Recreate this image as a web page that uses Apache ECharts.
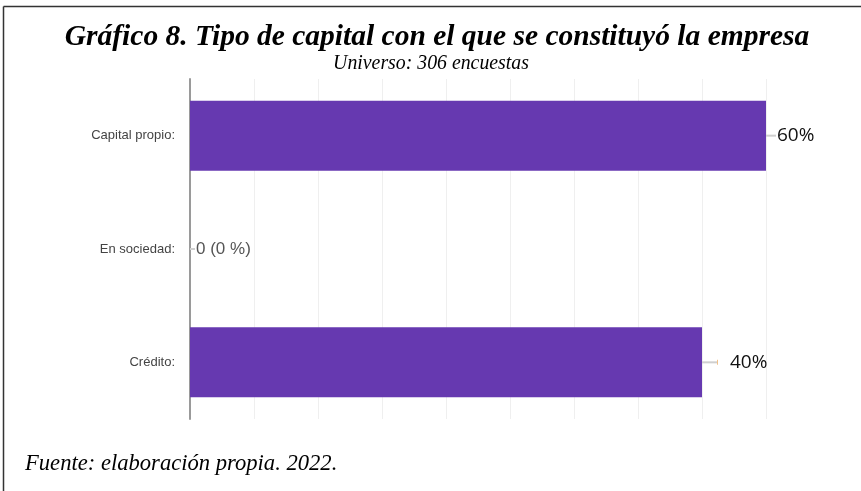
<!DOCTYPE html>
<html><head><meta charset="utf-8">
<script src="https://cdn.jsdelivr.net/npm/echarts@6/dist/echarts.min.js"></script>
<style>html,body{margin:0;padding:0;background:#fff}#c{width:861px;height:491px}</style>
</head><body><div id="c"></div>
<script>
const categories = ['Capital propio:', 'En sociedad:', 'Crédito:'];
const values = [180, 0, 160];
const valueLabels = ['60%', '0 (0 %)', '40%'];
const axisMax = 180;
const axisInterval = 20;

const chart = echarts.init(document.getElementById('c'));
const labelStyles = [
  {fontSize: 19, color: '#111', lead: 10, pad: 1, fam: 'Open Sans'},
  {fontSize: 17, color: '#555', lead: 5, pad: 1, fam: 'Liberation Sans'},
  {fontSize: 19, color: '#111', lead: 15, pad: 12, fam: 'Open Sans'}
];
chart.setOption({
  animation: false,
  backgroundColor: '#fff',
  title: [
    {text: 'Gráfico 8. Tipo de capital con el que se constituyó la empresa', left: 432, top: 17, textAlign: 'center',
     textStyle: {fontFamily: 'Liberation Serif', fontStyle: 'italic', fontWeight: 'bold', fontSize: 29.5, color: '#000'}}
  ],
  graphic: [
    {type: 'line', shape: {x1: 3.5, y1: 6.5, x2: 861, y2: 6.5}, style: {stroke: '#333', lineWidth: 1.5}},
    {type: 'line', shape: {x1: 3.5, y1: 6.5, x2: 3.5, y2: 491}, style: {stroke: '#333', lineWidth: 1.5}},
    {type: 'text', x: 431, y: 52, scaleX: 0.9,
     style: {text: 'Universo: 306 encuestas', textAlign: 'center', fill: '#000',
             font: 'italic 22px "Liberation Serif"'}},
    {type: 'text', x: 25, y: 453,
     style: {text: 'Fuente: elaboración propia. 2022.', textAlign: 'left', fill: '#000',
             font: 'italic 22.6px "Liberation Serif"'}}
  ],
  grid: {left: 190, right: 95, top: 79, bottom: 72},
  xAxis: {
    type: 'value', min: 0, max: axisMax, interval: axisInterval,
    axisLine: {show: false}, axisTick: {show: false}, axisLabel: {show: false},
    splitLine: {show: true, lineStyle: {color: '#efefef', width: 1}}
  },
  yAxis: {
    type: 'category', data: categories, inverse: true,
    axisLine: {show: true, lineStyle: {color: '#9a9a9a', width: 2}},
    axisTick: {show: false},
    axisLabel: {margin: 15, fontFamily: 'Liberation Sans', fontSize: 13, color: '#444'}
  },
  series: [{
    type: 'bar', barWidth: 70,
    itemStyle: {color: '#6639b0'},
    data: values.map((v, i) => ({
      value: v,
      label: {
        show: true, position: 'right', distance: 0,
        formatter: '{l|}' + (i === 2 ? '{o|}' : '') + '{t|' + valueLabels[i] + '}',
        rich: {
          l: {width: labelStyles[i].lead, height: 2, backgroundColor: '#cfcfcf'},
          o: {width: 1, height: 5, backgroundColor: '#f2c28a'},
          t: {fontSize: labelStyles[i].fontSize, color: labelStyles[i].color, fontFamily: labelStyles[i].fam,
              padding: [0, 0, 0, labelStyles[i].pad]}
        }
      }
    }))
  }]
});
</script></body></html>
